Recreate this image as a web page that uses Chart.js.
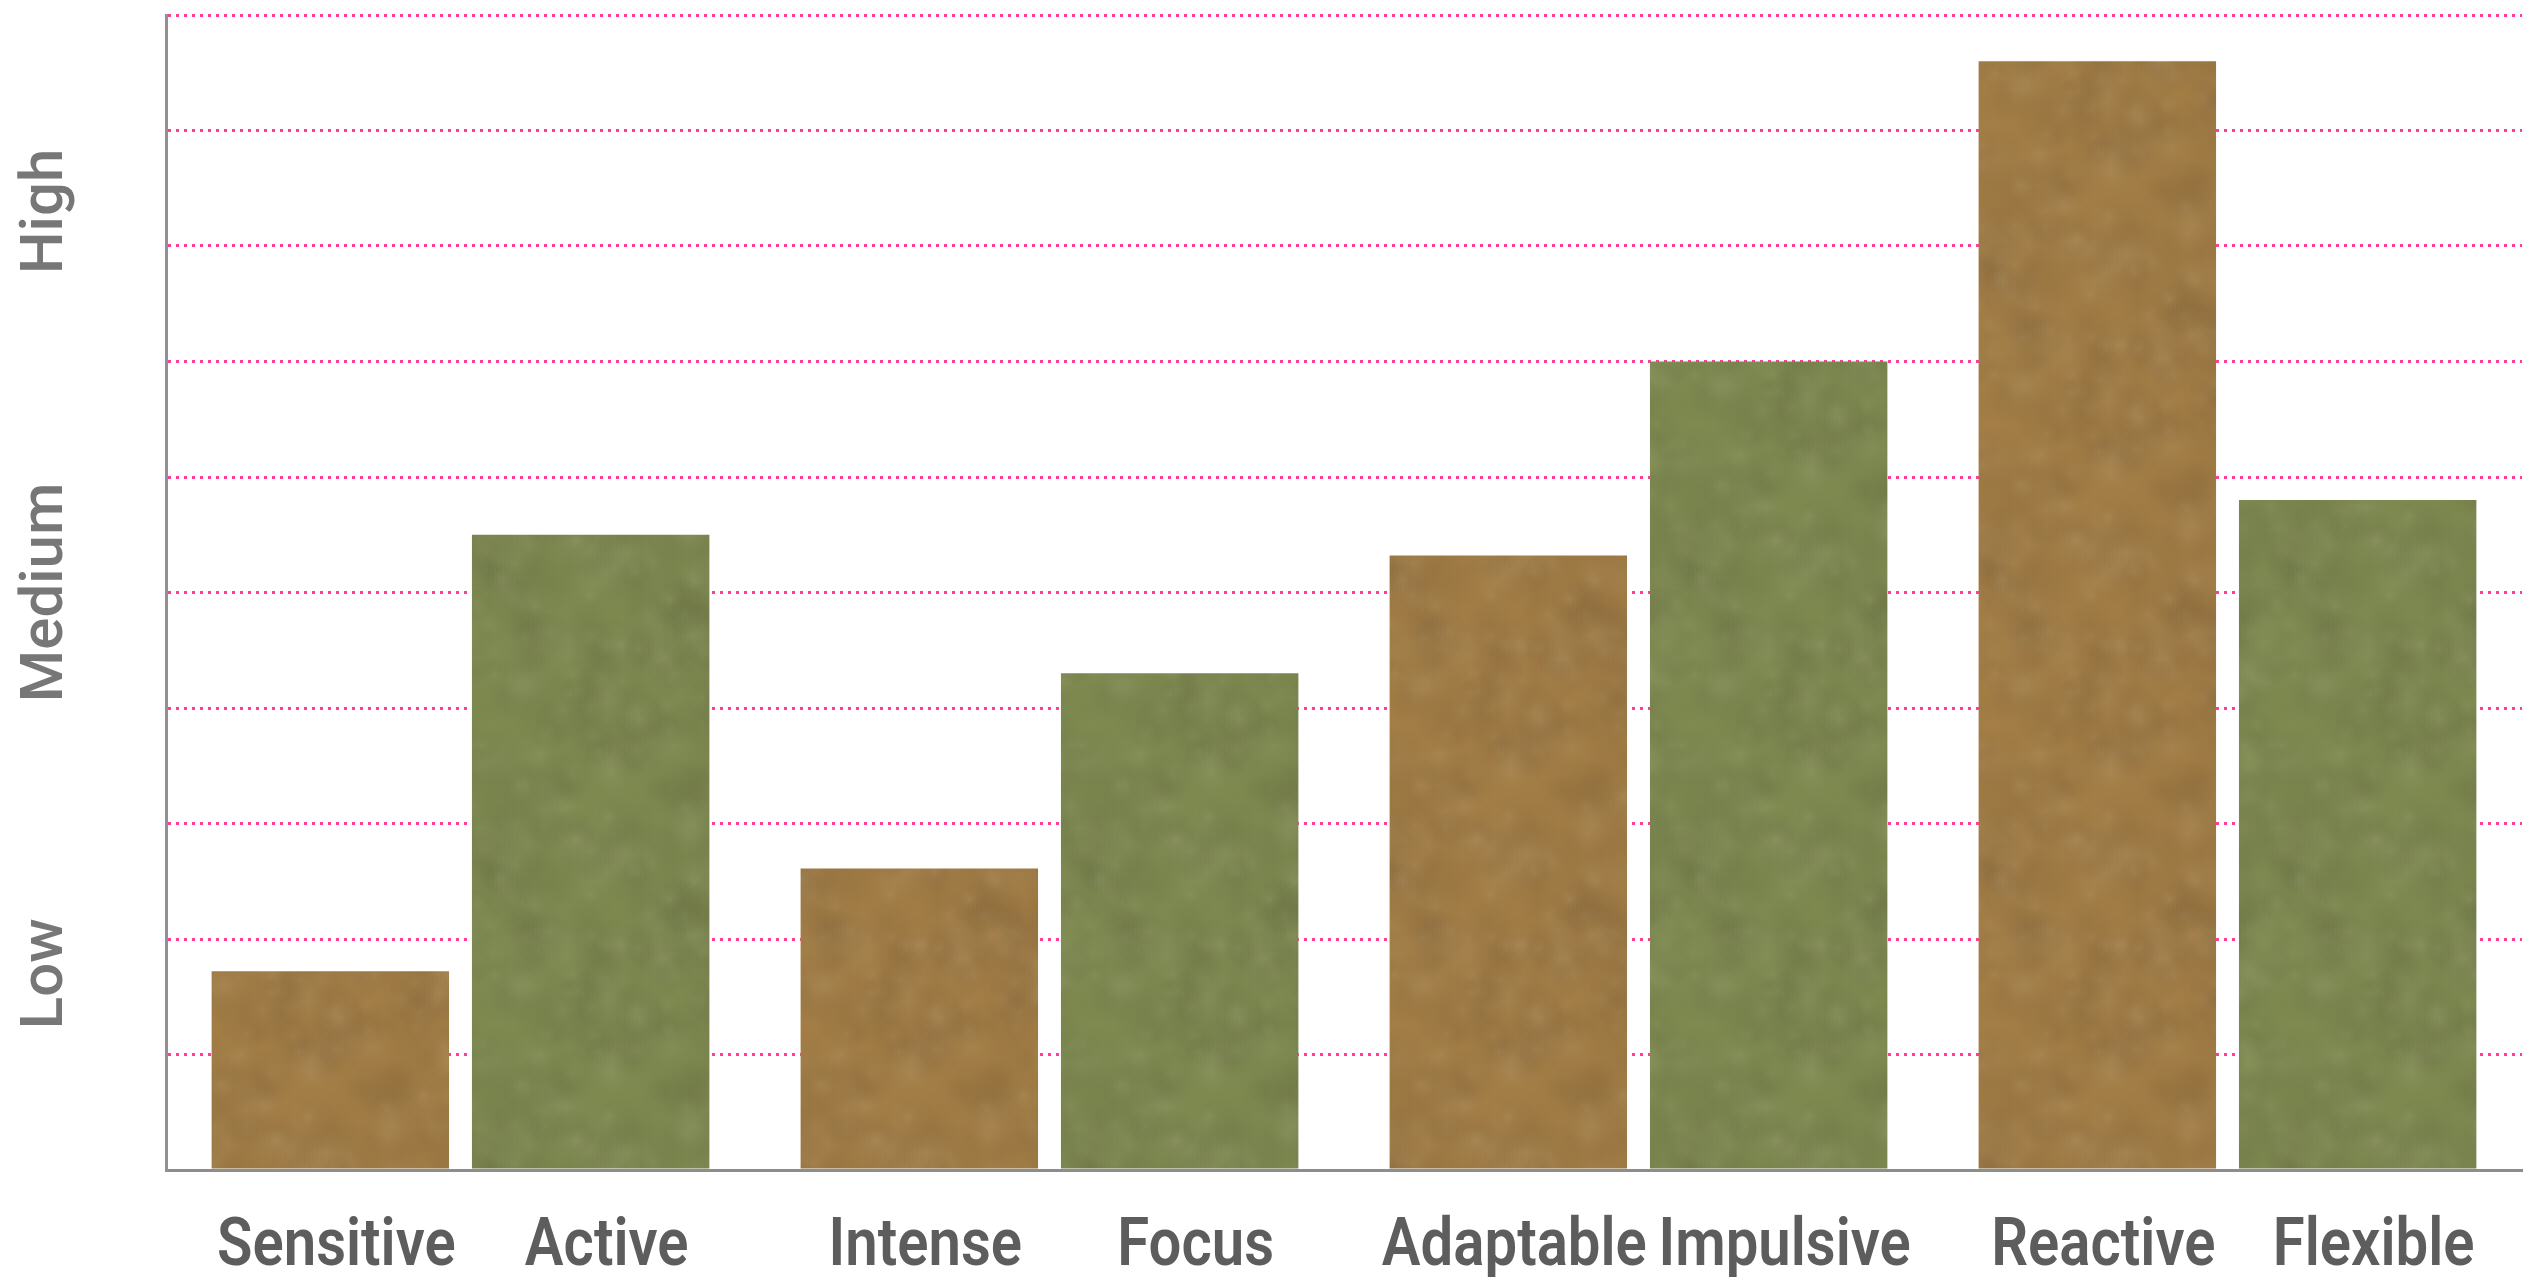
<!DOCTYPE html>
<html>
<head>
<meta charset="utf-8">
<script src="https://cdn.jsdelivr.net/npm/chart.js@4/dist/chart.umd.min.js"></script>
<style>
  html, body { margin: 0; padding: 0; background: #ffffff; overflow: hidden; }
  #wrap { position: relative; width: 2540px; height: 1277px; }
</style>
</head>
<body>
<div id="wrap"><canvas id="c" width="2540" height="1277"></canvas></div>
<script>
// Temperament pairs: each group holds two traits scored on a 0–10 scale
const pairs = ['Sensitive / Active', 'Intense / Focus', 'Adaptable / Impulsive', 'Reactive / Flexible'];
const firstTraits = ['Sensitive', 'Intense', 'Adaptable', 'Reactive'];
const secondTraits = ['Active', 'Focus', 'Impulsive', 'Flexible'];
const firstScores = [1.72, 2.61, 5.32, 9.6];
const secondScores = [5.5, 4.3, 7.0, 5.8];

// Qualitative levels written along the value axis
const levelNames = ['Low', 'Medium', 'High'];
const levelScores = [1.7, 5.0, 8.3];
const scoreMax = 10;

// Soft mottled paper fill for the bars (deterministic hash, no randomness)
function hash(n) {
  const s = Math.sin(n * 127.1 + 311.7) * 43758.5453;
  return s - Math.floor(s);
}
function paperFill(base) {
  const size = 300;
  const cv = document.createElement('canvas');
  cv.width = size; cv.height = size;
  const g = cv.getContext('2d');
  g.fillStyle = base;
  g.fillRect(0, 0, size, size);
  for (let i = 0; i < 260; i++) {
    const px = hash(i * 3.1) * size;
    const py = hash(i * 7.7 + 1.3) * size;
    const r = 14 + hash(i * 5.3 + 2.9) * 26;
    const light = hash(i * 9.1 + 4.4) > 0.5;
    for (let ox = -size; ox <= size; ox += size) {
      for (let oy = -size; oy <= size; oy += size) {
        const grad = g.createRadialGradient(px + ox, py + oy, 0, px + ox, py + oy, r);
        grad.addColorStop(0, light ? 'rgba(255,255,225,0.045)' : 'rgba(40,30,10,0.035)');
        grad.addColorStop(1, 'rgba(0,0,0,0)');
        g.fillStyle = grad;
        g.fillRect(px + ox - r, py + oy - r, r * 2, r * 2);
      }
    }
  }
  const ctx = document.getElementById('c').getContext('2d');
  return ctx.createPattern(cv, 'repeat');
}

const brown = paperFill('#a47e45');
const green = paperFill('#7f8a50');

// Trait names under each bar and level names beside the value axis
const labelNudge = [6, 16];
const traitLabels = {
  id: 'traitLabels',
  afterDraw(chart) {
    const ctx = chart.ctx;
    const yScale = chart.scales.y;
    const area = chart.chartArea;
    ctx.save();
    ctx.fillStyle = '#5d5d5d';
    ctx.font = '600 66px Roboto, "Liberation Sans", sans-serif';
    ctx.textAlign = 'center';
    ctx.textBaseline = 'alphabetic';
    [firstTraits, secondTraits].forEach((names, d) => {
      chart.getDatasetMeta(d).data.forEach((bar, i) => {
        ctx.save();
        ctx.translate(bar.x + labelNudge[d], area.bottom + 95);
        ctx.scale(0.88, 1);
        ctx.fillText(names[i], 0, 0);
        ctx.restore();
      });
    });

    ctx.fillStyle = '#767776';
    ctx.font = '500 60px Roboto, "Liberation Sans", sans-serif';
    levelNames.forEach((name, i) => {
      const py = yScale.getPixelForValue(levelScores[i]);
      ctx.save();
      ctx.translate(area.left - 104, py);
      ctx.rotate(-Math.PI / 2);
      ctx.fillText(name, 0, 0);
      ctx.restore();
    });
    ctx.restore();
  }
};

new Chart(document.getElementById('c'), {
  type: 'bar',
  data: {
    labels: pairs,
    datasets: [
      { label: 'First trait', data: firstScores, backgroundColor: brown, borderWidth: 0 },
      { label: 'Second trait', data: secondScores, backgroundColor: green, borderWidth: 0 }
    ]
  },
  options: {
    responsive: false,
    animation: false,
    devicePixelRatio: 1,
    categoryPercentage: 0.884,
    barPercentage: 0.912,
    layout: { padding: { left: 166, right: 18, top: 15, bottom: 107 } },
    plugins: { legend: { display: false }, tooltip: { enabled: false } },
    scales: {
      x: {
        grid: { display: false, drawTicks: false },
        ticks: { display: false },
        border: { display: true, color: '#8b8e8d', width: 3 }
      },
      y: {
        min: 0,
        max: scoreMax,
        ticks: { display: false, stepSize: 1 },
        grid: {
          drawTicks: false,
          lineWidth: 3,
          color: (c) => (c.tick && c.tick.value === 0) ? 'rgba(0,0,0,0)' : '#ff3d99'
        },
        border: { display: true, color: '#8f9291', width: 3, dash: [3, 5] }
      }
    }
  },
  plugins: [traitLabels]
});
</script>
</body>
</html>
